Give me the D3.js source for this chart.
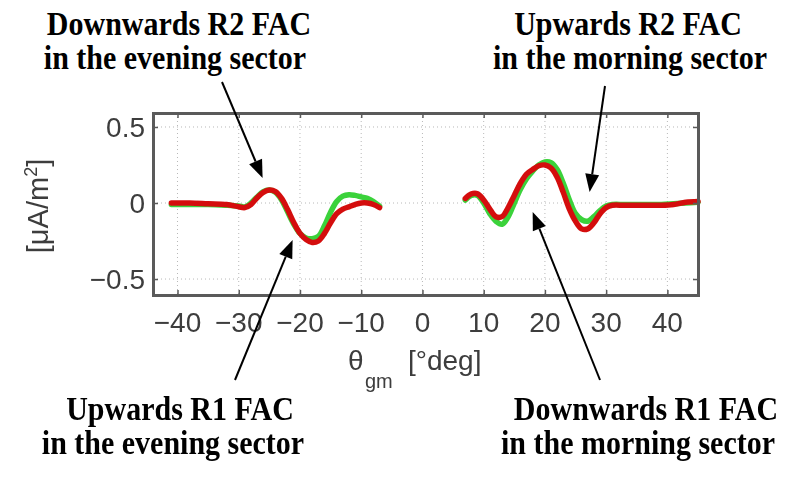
<!DOCTYPE html>
<html>
<head>
<meta charset="utf-8">
<script src="https://cdn.jsdelivr.net/npm/d3@7"></script>
<style>
  html, body { margin: 0; padding: 0; background: #fff; }
  svg { display: block; }
</style>
</head>
<body>
<div id="chart"></div>
<script>
// Field-aligned current density profiles across the evening and morning sectors
const thetaEvening = [-41, -38, -35, -32, -30, -29, -28, -27, -26, -25, -24, -23, -22, -21, -20, -19, -18, -17, -16, -15, -14, -13, -12, -11, -10, -9, -8, -7];
const redEvening   = [0.0, 0.0, -0.005, -0.01, -0.025, -0.03, -0.01, 0.035, 0.07, 0.085, 0.075, 0.03, -0.045, -0.13, -0.2, -0.24, -0.26, -0.25, -0.2, -0.13, -0.07, -0.04, -0.025, -0.01, 0.0, 0.0, -0.01, -0.03];
const greenEvening = [-0.01, -0.01, -0.01, -0.015, -0.02, -0.025, 0.0, 0.04, 0.075, 0.085, 0.07, 0.02, -0.06, -0.14, -0.2, -0.23, -0.235, -0.22, -0.15, -0.06, 0.01, 0.045, 0.055, 0.05, 0.04, 0.03, 0.01, -0.02];

const thetaMorning = [7, 8, 9, 10, 11, 12, 13, 14, 15, 16, 17, 18, 19, 20, 21, 22, 23, 24, 25, 26, 27, 28, 29, 30, 31, 33, 36, 39, 41, 43, 45];
const redMorning   = [0.03, 0.06, 0.06, 0.02, -0.04, -0.09, -0.09, -0.03, 0.05, 0.13, 0.19, 0.22, 0.245, 0.25, 0.23, 0.17, 0.07, -0.04, -0.12, -0.17, -0.17, -0.13, -0.07, -0.03, -0.015, -0.015, -0.015, -0.015, -0.01, 0.005, 0.01];
const greenMorning = [0.02, 0.05, 0.05, 0.0, -0.07, -0.12, -0.14, -0.09, 0.0, 0.09, 0.16, 0.21, 0.25, 0.27, 0.265, 0.22, 0.13, 0.02, -0.07, -0.11, -0.12, -0.09, -0.05, -0.02, -0.01, -0.01, -0.01, -0.01, -0.005, 0.0, 0.005];

const xTicks = [-40, -30, -20, -10, 0, 10, 20, 30, 40];
const yTicks = [-0.5, 0, 0.5];
const xTickLabels = ["\u221240", "\u221230", "\u221220", "\u221210", "0", "10", "20", "30", "40"];
const yTickLabels = ["\u22120.5", "0", "0.5"];

const W = 795, H = 477;
const plot = { left: 153, right: 698, top: 113, bottom: 295 };

const svg = d3.select("#chart").append("svg")
  .attr("width", W).attr("height", H);

const defs = svg.append("defs");
defs.append("filter").attr("id", "soft")
  .attr("x", "-5%").attr("y", "-5%").attr("width", "110%").attr("height", "110%")
  .append("feGaussianBlur").attr("stdDeviation", 0.7);

const x = d3.scaleLinear().domain([-44, 45]).range([plot.left, plot.right]);
const y = d3.scaleLinear().domain([-0.605, 0.592]).range([plot.bottom, plot.top]);

const g = svg.append("g").attr("filter", "url(#soft)");

// dotted grid
g.append("g").selectAll("line").data(xTicks).join("line")
  .attr("x1", d => x(d)).attr("x2", d => x(d))
  .attr("y1", plot.top).attr("y2", plot.bottom)
  .attr("stroke", "#b8b8b8").attr("stroke-width", 1)
  .attr("stroke-dasharray", "1,3");
g.append("g").selectAll("line").data(yTicks).join("line")
  .attr("x1", plot.left).attr("x2", plot.right)
  .attr("y1", d => y(d)).attr("y2", d => y(d))
  .attr("stroke", "#b8b8b8").attr("stroke-width", 1)
  .attr("stroke-dasharray", "1,3");

// curves: green underneath, red on top
const line = d3.line().x(d => x(d[0])).y(d => y(d[1])).curve(d3.curveCatmullRom);
const series = [
  { xs: thetaEvening, ys: greenEvening, color: "#3ad23a" },
  { xs: thetaMorning, ys: greenMorning, color: "#3ad23a" },
  { xs: thetaEvening, ys: redEvening, color: "#d41010" },
  { xs: thetaMorning, ys: redMorning, color: "#d41010" }
];
g.append("g").selectAll("path").data(series).join("path")
  .attr("d", s => line(s.xs.map((v, i) => [v, s.ys[i]])))
  .attr("fill", "none")
  .attr("stroke", s => s.color)
  .attr("stroke-width", 5.5)
  .attr("stroke-linejoin", "round")
  .attr("stroke-linecap", "round");

// axes (box with inward ticks, MATLAB style)
const axisColor = "#5a5a5a";
const xBottom = d3.axisBottom(x).tickValues(xTicks).tickSize(-5).tickFormat("");
const xTop = d3.axisTop(x).tickValues(xTicks).tickSize(-5).tickFormat("");
const yLeft = d3.axisLeft(y).tickValues(yTicks).tickSize(-5).tickFormat("");
const yRight = d3.axisRight(y).tickValues(yTicks).tickSize(-5).tickFormat("");
[
  [xBottom, `translate(0,${plot.bottom})`],
  [xTop, `translate(0,${plot.top})`],
  [yLeft, `translate(${plot.left},0)`],
  [yRight, `translate(${plot.right},0)`]
].forEach(([ax, tr]) => {
  const a = g.append("g").attr("transform", tr).call(ax);
  a.select(".domain").attr("stroke", axisColor).attr("stroke-width", 3);
  a.selectAll(".tick line").attr("stroke", axisColor).attr("stroke-width", 1.5);
});

// tick labels
const labelFont = "'Liberation Sans', Arial, sans-serif";
const labelColor = "#3c3c3c";
g.append("g").selectAll("text").data(xTicks).join("text")
  .attr("x", d => x(d)).attr("y", plot.bottom + 37)
  .attr("text-anchor", "middle")
  .attr("font-family", labelFont).attr("font-size", 28)
  .attr("fill", labelColor)
  .text((d, i) => xTickLabels[i]);
g.append("g").selectAll("text").data(yTicks).join("text")
  .attr("x", plot.left - 8).attr("y", d => y(d) + 10)
  .attr("text-anchor", "end")
  .attr("font-family", labelFont).attr("font-size", 28)
  .attr("fill", labelColor)
  .text((d, i) => yTickLabels[i]);

// axis titles
const yTitle = g.append("text")
  .attr("transform", `translate(48,${(plot.top + plot.bottom) / 2 + 2}) rotate(-90)`)
  .attr("text-anchor", "middle")
  .attr("font-family", labelFont).attr("font-size", 29)
  .attr("fill", labelColor);
yTitle.append("tspan").text("[\u03bcA/m");
yTitle.append("tspan").attr("font-size", 18).attr("dy", -11).text("2");
yTitle.append("tspan").attr("dy", 11).text("]");

const xTitle = g.append("g").attr("font-family", labelFont).attr("fill", labelColor);
xTitle.append("text").attr("x", 348).attr("y", 370).attr("font-size", 28).text("\u03b8");
xTitle.append("text").attr("x", 365).attr("y", 388).attr("font-size", 20).text("gm");
xTitle.append("text").attr("x", 408).attr("y", 370).attr("font-size", 28).text("[\u00b0deg]");

// annotations
const notes = [
  { lines: ["Downwards R2 FAC", "in the evening sector"], cx: [179, 175], y0: 35 },
  { lines: ["Upwards R2 FAC", "in the morning sector"], cx: [628, 630], y0: 35 },
  { lines: ["Upwards R1 FAC", "in the evening sector"], cx: [180, 173], y0: 420 },
  { lines: ["Downwards R1 FAC", "in the morning sector"], cx: [646, 638], y0: 420 }
];
const ann = svg.append("g");
notes.forEach(n => {
  n.lines.forEach((t, i) => {
    ann.append("text")
      .attr("transform", `translate(${n.cx[i]},${n.y0 + i * 34}) scale(1,1.1)`)
      .attr("text-anchor", "middle")
      .attr("font-family", "'Liberation Serif', 'Times New Roman', serif")
      .attr("font-weight", "bold").attr("font-size", 30)
      .attr("fill", "#000")
      .text(t);
  });
});

// arrows from each note to the feature it names
const arrows = [
  { from: [222, 82], to: [-26.1, 0.164] },
  { from: [605, 86], to: [27.3, 0.072] },
  { from: [235, 380], to: [-21.2, -0.243] },
  { from: [600, 380], to: [18.0, -0.059] }
];
arrows.forEach(a => {
  const tx = x(a.to[0]), ty = y(a.to[1]);
  const [fx, fy] = a.from;
  const dx = tx - fx, dy = ty - fy, len = Math.hypot(dx, dy);
  const ux = dx / len, uy = dy / len;
  const headL = 18, headW = 7;
  const bx = tx - ux * headL, by = ty - uy * headL;
  ann.append("line")
    .attr("x1", fx).attr("y1", fy).attr("x2", bx).attr("y2", by)
    .attr("stroke", "#000").attr("stroke-width", 2);
  ann.append("path")
    .attr("d", `M${tx},${ty}L${bx - uy * headW},${by + ux * headW}L${bx + uy * headW},${by - ux * headW}Z`)
    .attr("fill", "#000");
});
</script>
</body>
</html>
